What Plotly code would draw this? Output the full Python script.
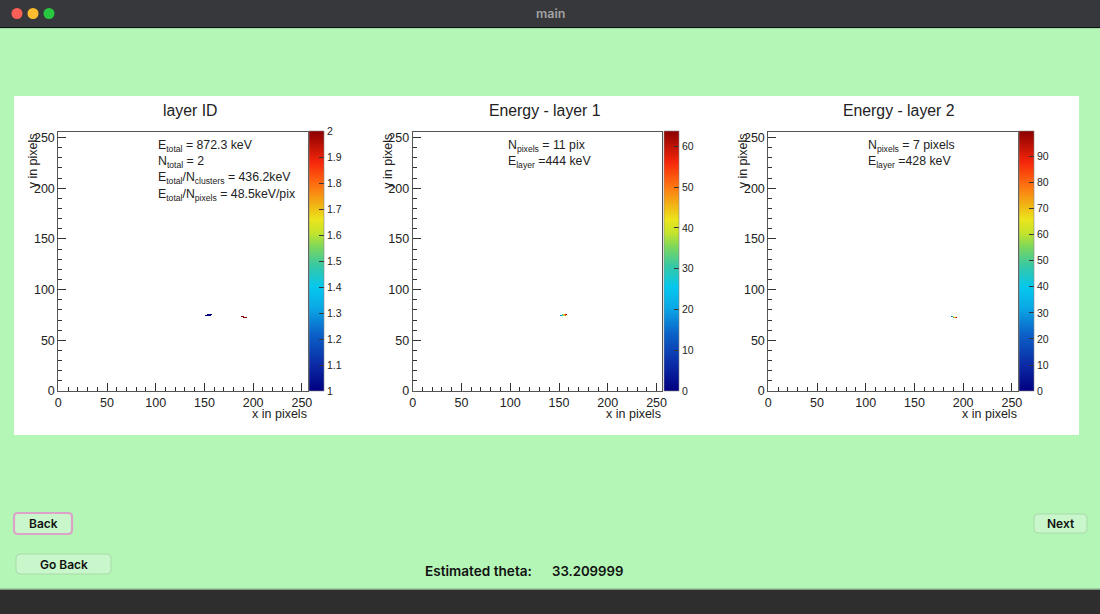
import numpy as np
import plotly.graph_objects as go

W, H = 1100, 614

# Hit pixels (detector pixel indices) and deposited energy per pixel in keV
layer1_x = [151, 152, 153, 153, 154, 154, 155, 155, 156, 156, 157]
layer1_y = [74, 74, 74, 75, 74, 75, 74, 75, 74, 75, 75]
layer1_E = [16.6, 22.8, 28.6, 33.0, 36.5, 40.3, 44.1, 47.9, 52.4, 58.2, 63.7]

layer2_x = [188, 189, 190, 190, 191, 192, 193]
layer2_y = [73, 73, 72, 73, 72, 72, 72]
layer2_E = [23.1, 35.1, 52.7, 63.8, 71.4, 82.6, 99.5]

n_pix = 256  # sensor size in pixels

panel_titles = ["layer ID", "Energy - layer 1", "Energy - layer 2"]
stats_lines = [
    ["E<sub>total</sub> = 872.3 keV",
     "N<sub>total</sub> = 2",
     "E<sub>total</sub>/N<sub>clusters</sub> = 436.2keV",
     "E<sub>total</sub>/N<sub>pixels</sub> = 48.5keV/pix"],
    ["N<sub>pixels</sub> = 11 pix",
     "E<sub>layer</sub> =444 keV"],
    ["N<sub>pixels</sub> = 7 pixels",
     "E<sub>layer</sub> =428 keV"],
]
axis_ticks = [0, 50, 100, 150, 200, 250]
cbar_dtick = [0.1, 10, 10]

theta_label = "Estimated theta:"
theta_value = "33.209999"


def fx(px):
    return px / W


def fy(py):
    return 1 - py / H


def pixel_map(xs, ys, vals):
    z = np.full((n_pix, n_pix), np.nan)
    for x, y, v in zip(xs, ys, vals):
        z[y, x] = v
    return z


layer_id_map = pixel_map(layer1_x + layer2_x, layer1_y + layer2_y,
                         [1] * len(layer1_x) + [2] * len(layer2_x))
energy1_map = pixel_map(layer1_x, layer1_y, layer1_E)
energy2_map = pixel_map(layer2_x, layer2_y, layer2_E)

rainbow = [
    [0.00, "#000080"], [0.10, "#0b2aa6"], [0.22, "#0b62c8"], [0.32, "#0aa8e6"],
    [0.40, "#05c8ee"], [0.48, "#35c8a6"], [0.55, "#78d660"], [0.61, "#c6e42a"],
    [0.66, "#ece41c"], [0.72, "#f2b014"], [0.80, "#ff6a10"], [0.88, "#f5260a"],
    [1.00, "#8a0000"],
]

# frame (left, right) in px and colour-bar left edge for each pad
frames = [(58.3, 307.7, 309.0), (412.7, 662.4, 664.0), (768.3, 1017.7, 1019.0)]
top_px, bot_px = 131.5, 391.0

maps = [(layer_id_map, 1, 2), (energy1_map, 0, max(layer1_E)), (energy2_map, 0, max(layer2_E))]

text_col = "#222222"
base_font = "Liberation Sans, Arial, sans-serif"

fig = go.Figure()

for i, ((z, zmin, zmax), (l, r, cbx)) in enumerate(zip(maps, frames)):
    sfx = "" if i == 0 else str(i + 1)
    fig.add_trace(go.Heatmap(
        z=z, x0=0.5, dx=1, y0=0.5, dy=1,
        zmin=zmin, zmax=zmax, colorscale=rainbow, zsmooth=False,
        hoverinfo="skip",
        xaxis="x" + sfx, yaxis="y" + sfx,
        colorbar=dict(
            x=fx(cbx), xanchor="left", xpad=0,
            y=fy((top_px + bot_px) / 2), yanchor="middle", ypad=0,
            len=(bot_px - top_px) / H, lenmode="fraction",
            thickness=15, thicknessmode="pixels",
            outlinewidth=0.6, outlinecolor="#888888",
            ticks="inside", ticklen=5, tickcolor="#333333",
            tick0=zmin, dtick=cbar_dtick[i],
            tickfont=dict(family=base_font, size=10.5, color=text_col),
        ),
    ))

layout_axes = {}
for i, (l, r, cbx) in enumerate(frames):
    sfx = "" if i == 0 else str(i + 1)
    common = dict(
        range=[0, n_pix], showgrid=False, zeroline=False,
        showline=True, linecolor="#555555", linewidth=1, mirror=True,
        ticks="inside", ticklen=8, tickwidth=1, tickcolor="#333333",
        tickvals=axis_ticks,
        minor=dict(ticks="inside", ticklen=4, dtick=10, tick0=0, tickcolor="#333333", showgrid=False),
        tickfont=dict(family=base_font, size=12.5, color=text_col),
        fixedrange=True,
    )
    layout_axes["xaxis" + sfx] = dict(common, domain=[fx(l), fx(r)], anchor="y" + sfx,
                                      ticklabelstandoff=0)
    layout_axes["yaxis" + sfx] = dict(common, domain=[fy(bot_px), fy(top_px)], anchor="x" + sfx)

fig.update_layout(**layout_axes)

annotations = []
title_cx = [190, 545, 898.5]
stats_left = [156.0, 505.5, 865.5]
stats_rows = [145.5, 162, 178, 194.5]
for i, (l, r, cbx) in enumerate(frames):
    annotations.append(dict(
        text=panel_titles[i], x=fx(title_cx[i]), y=fy(110.5), xref="paper", yref="paper",
        xanchor="center", yanchor="middle", showarrow=False,
        font=dict(family=base_font, size=15.8, color=text_col)))
    for j, line in enumerate(stats_lines[i]):
        annotations.append(dict(
            text=line, x=fx(stats_left[i]), y=fy(stats_rows[j]), xref="paper", yref="paper",
            xanchor="left", yanchor="middle", showarrow=False,
            font=dict(family=base_font, size=12.3, color=text_col)))
    annotations.append(dict(
        text="x in pixels", x=fx(r + 1), y=fy(414), xref="paper", yref="paper",
        xanchor="right", yanchor="middle", showarrow=False,
        font=dict(family=base_font, size=12.5, color=text_col)))
    annotations.append(dict(
        text="y in pixels", x=fx(l - 25), y=fy(top_px), xref="paper", yref="paper",
        xanchor="center", yanchor="top", textangle=-90, showarrow=False,
        font=dict(family=base_font, size=12.5, color=text_col)))

ui_font = "Inter, Roboto, sans-serif"


def rrect(x0, y0, x1, y1, r):
    # rounded rectangle as an SVG path in paper coordinates
    pts = [
        f"M {fx(x0 + r)},{fy(y0)}", f"L {fx(x1 - r)},{fy(y0)}",
        f"Q {fx(x1)},{fy(y0)} {fx(x1)},{fy(y0 + r)}", f"L {fx(x1)},{fy(y1 - r)}",
        f"Q {fx(x1)},{fy(y1)} {fx(x1 - r)},{fy(y1)}", f"L {fx(x0 + r)},{fy(y1)}",
        f"Q {fx(x0)},{fy(y1)} {fx(x0)},{fy(y1 - r)}", f"L {fx(x0)},{fy(y0 + r)}",
        f"Q {fx(x0)},{fy(y0)} {fx(x0 + r)},{fy(y0)}", "Z",
    ]
    return " ".join(pts)


P = dict(xref="paper", yref="paper", layer="below")
shapes = [
    # window title bar and bottom strip
    dict(type="rect", x0=0, x1=1, y0=fy(27.5), y1=1, fillcolor="#37383c", line_width=0, **P),
    dict(type="line", x0=0, x1=1, y0=fy(27.5), y1=fy(27.5), line=dict(color="#111111", width=1), **P),
    dict(type="line", x0=0, x1=1, y0=fy(28.5), y1=fy(28.5), line=dict(color="#9fdca1", width=1), **P),
    dict(type="rect", x0=0, x1=1, y0=0, y1=fy(589.5), fillcolor="#2e2e2e", line_width=0, **P),
    dict(type="line", x0=0, x1=1, y0=fy(589), y1=fy(589), line=dict(color="#8aa88b", width=1), **P),
    # white canvas holding the three pads
    dict(type="rect", x0=fx(14), x1=fx(1079), y0=fy(435), y1=fy(96), fillcolor="white", line_width=0, **P),
    # buttons
    dict(type="path", path=rrect(14, 513, 72, 534, 4), fillcolor="#c9f7cb",
         line=dict(color="#dba3c8", width=2.2), **P),
    dict(type="path", path=rrect(1034, 514, 1087, 533, 4), fillcolor="#c9f7cb",
         line=dict(color="#a9d9aa", width=1), **P),
    dict(type="path", path=rrect(16, 554, 111, 574, 4), fillcolor="#c9f7cb",
         line=dict(color="#a9d9aa", width=1), **P),
]

# traffic-light buttons in the title bar
for cx, col in zip([17, 33, 49], ["#fe5f57", "#febc2e", "#28c840"]):
    shapes.append(dict(type="circle", x0=fx(cx - 5.5), x1=fx(cx + 5.5), y0=fy(19), y1=fy(8),
                       fillcolor=col, line_width=0, **P))

annotations += [
    dict(text="main", x=fx(550), y=fy(13.5), xref="paper", yref="paper", showarrow=False,
         xanchor="center", yanchor="middle", font=dict(family=ui_font, size=12.5, color="#a3a3a3", weight=600)),
    dict(text="Back", x=fx(43), y=fy(523.5), xref="paper", yref="paper", showarrow=False,
         xanchor="center", yanchor="middle", font=dict(family=ui_font, size=12, color="#111111", weight=600)),
    dict(text="Next", x=fx(1060.5), y=fy(523.5), xref="paper", yref="paper", showarrow=False,
         xanchor="center", yanchor="middle", font=dict(family=ui_font, size=12, color="#111111", weight=600)),
    dict(text="Go Back", x=fx(63.5), y=fy(564), xref="paper", yref="paper", showarrow=False,
         xanchor="center", yanchor="middle", font=dict(family=ui_font, size=12, color="#111111", weight=600)),
    dict(text=theta_label, x=fx(423), y=fy(571), xref="paper", yref="paper", showarrow=False,
         xanchor="left", yanchor="middle", font=dict(family=ui_font, size=13.6, color="#111111", weight=600)),
    dict(text=theta_value, x=fx(550), y=fy(571), xref="paper", yref="paper", showarrow=False,
         xanchor="left", yanchor="middle", font=dict(family=ui_font, size=13.2, color="#111111", weight=600)),
]

fig.update_layout(
    width=W, height=H, autosize=False,
    margin=dict(l=0, r=0, t=0, b=0, pad=0, autoexpand=False),
    paper_bgcolor="#b3f6b5", plot_bgcolor="white",
    font=dict(family=base_font, color=text_col),
    showlegend=False,
    shapes=shapes, annotations=annotations,
)

fig.write_html("out.html", config={"displayModeBar": False})
